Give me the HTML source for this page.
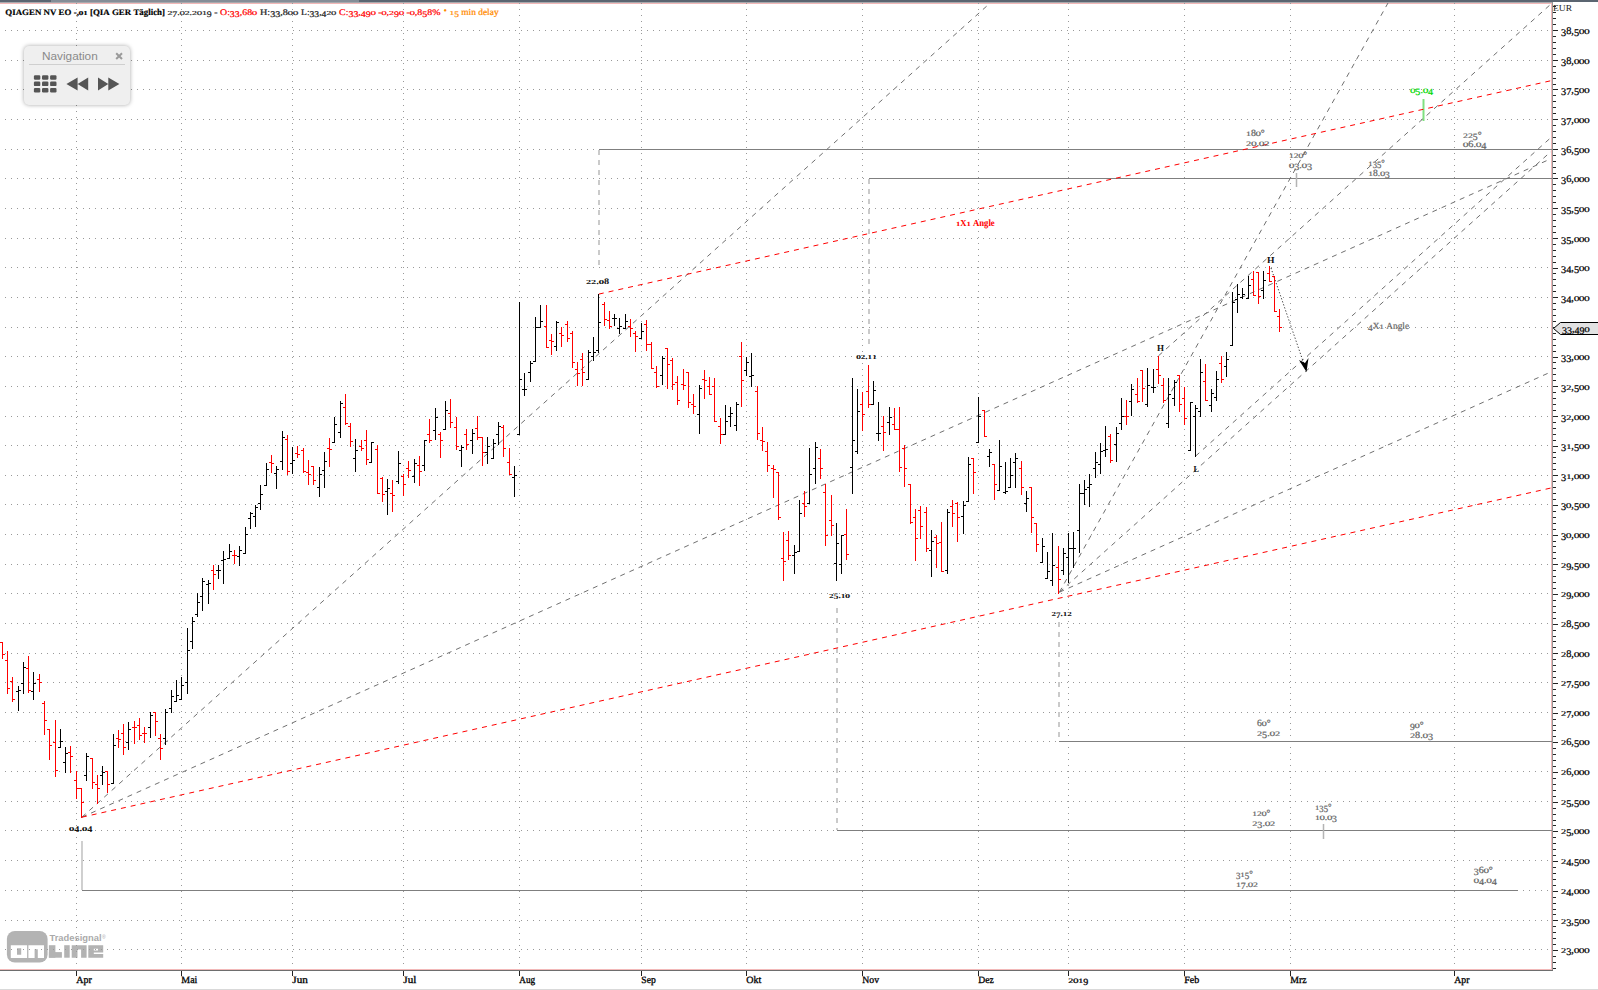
<!DOCTYPE html>
<html><head><meta charset="utf-8"><style>
html,body{margin:0;padding:0;background:#fff;}
body{width:1598px;height:990px;overflow:hidden;position:relative;}
#chart{position:absolute;left:0;top:0;}
#nav{position:absolute;left:24px;top:46px;width:106px;height:59px;background:#efefef;border-radius:5px;box-shadow:0 0 4px rgba(0,0,0,0.35);}
#navt{position:absolute;left:18px;top:3px;font-family:"Liberation Sans",sans-serif;font-size:11.8px;color:#8a8a8a;}
#navx{position:absolute;left:90.8px;top:5.9px;}
#navsep{position:absolute;left:5px;top:18px;width:96px;height:1px;background:#cfcfcf;}
#navicons{position:absolute;left:0;top:29px;}
</style></head><body>
<svg id="chart" width="1598" height="990" viewBox="0 0 1598 990">
<rect x="0" y="0" width="1598" height="2" fill="#5b6571"/>
<rect x="51" y="0" width="308" height="2" fill="#858d97"/>
<rect x="0" y="2" width="1553" height="1" fill="#a7a9ad"/>
<rect x="0" y="3" width="1551" height="1" fill="#f2b8b8"/>
<rect x="1551" y="3" width="1" height="967" fill="#f2b8b8"/>
<rect x="0" y="969" width="1551" height="1" fill="#f2b8b8"/>
<rect x="1552" y="2" width="1" height="969" fill="#959595"/>
<rect x="0" y="970" width="1553" height="1" fill="#6e6e6e"/>
<rect x="0" y="989" width="1598" height="1" fill="#d9d9d9"/>
<g fill="#b3b3b3">
<rect x="6.9" y="930.9" width="40.7" height="31.6" rx="8"/>
<rect x="48.9" y="945.2" width="6.5" height="12.5"/><rect x="48.9" y="952.1" width="13" height="5.6"/>
<rect x="64.2" y="945.2" width="5.5" height="12.5"/>
<path d="M71.7 945.2H86.6V957.7H81.1V949.4H77.5V957.7H71.7Z"/>
<path d="M88.3 945.2H103.2V954H93.8V952.4H103.2V957.7H88.3Z M93.8 948.8V950.4H98V948.8Z" fill-rule="evenodd"/>
<text x="49.5" y="941.3" font-family="Liberation Sans" font-size="8.2" font-weight="bold" fill="#aaaaaa" textLength="52.0" lengthAdjust="spacingAndGlyphs" >Tradesignal</text>
</g>
<text x="102" y="938.5" font-family="Liberation Sans" font-size="5" fill="#aaa">®</text>
<g fill="#fff">
<path d="M10.8 945.2H27.1V957.9H10.8Z M17 948.2V954.7H21.2V948.2Z" fill-rule="evenodd"/>
<path d="M28.4 945.2H44V957.9H37.8V949.2H34.6V957.9H28.4Z"/>
</g>
<path d="M5 30.5H1551M5 60.5H1551M5 89.5H1551M5 119.5H1551M5 149.5H1551M5 178.5H1551M5 208.5H1551M5 238.5H1551M5 267.5H1551M5 297.5H1551M5 327.5H1551M5 356.5H1551M5 386.5H1551M5 416.5H1551M5 445.5H1551M5 475.5H1551M5 504.5H1551M5 534.5H1551M5 564.5H1551M5 593.5H1551M5 623.5H1551M5 653.5H1551M5 682.5H1551M5 712.5H1551M5 741.5H1551M5 771.5H1551M5 801.5H1551M5 830.5H1551M5 860.5H1551M5 890.5H1551M5 920.5H1551M5 949.5H1551" stroke="#999999" stroke-width="1" stroke-dasharray="1 5" fill="none" shape-rendering="crispEdges"/>
<path d="M76.5 3V969M181.5 3V969M292.5 3V969M403.5 3V969M519.5 3V969M641.5 3V969M746.5 3V969M862.5 3V969M978.5 3V969M1068.5 3V969M1184.5 3V969M1290.5 3V969M1454.5 3V969" stroke="#999999" stroke-width="1" stroke-dasharray="1 5" fill="none" shape-rendering="crispEdges"/>
<g shape-rendering="crispEdges">
<rect x="599" y="149" width="953" height="1" fill="#7f7f7f"/>
<rect x="869" y="178" width="683" height="1" fill="#7f7f7f"/>
<rect x="1059" y="741" width="493" height="1" fill="#7f7f7f"/>
<rect x="837" y="830" width="715" height="1" fill="#7f7f7f"/>
<rect x="82" y="890" width="1436" height="1" fill="#7f7f7f"/>
</g>
<g stroke="#bdbdbd" stroke-width="1.6" stroke-dasharray="5 5" fill="none">
<path d="M599 150V267"/>
<path d="M869 179V344"/>
<path d="M837 608V830"/>
<path d="M1059 622V741"/>
</g>
<path d="M82 841V890" stroke="#c4c4c4" stroke-width="1.6" fill="none"/>
<path d="M1296.5 173V187M1323.5 824V839" stroke="#b4b4b4" stroke-width="1.5" fill="none"/>
<path d="M1423.5 99V121" stroke="#80e080" stroke-width="2" fill="none"/>
<g stroke="#707070" stroke-width="1" stroke-dasharray="5 5" fill="none">
<line x1="81.9" y1="817.2" x2="990.2" y2="3.0"/>
<line x1="81.9" y1="817.2" x2="1551.0" y2="158.7"/>
<line x1="1059.4" y1="592.2" x2="1388.0" y2="3.0"/>
<line x1="1059.4" y1="592.2" x2="1551.0" y2="151.5"/>
<line x1="1059.4" y1="592.2" x2="1551.0" y2="371.9"/>
<line x1="1158.5" y1="355.8" x2="1551.0" y2="4.0"/>
<line x1="1195.6" y1="456.1" x2="1551.0" y2="137.5"/>
</g>
<g stroke="#ff0000" stroke-width="1" stroke-dasharray="5 5" fill="none">
<line x1="81.9" y1="817.2" x2="1551.0" y2="488.0"/>
<line x1="598.8" y1="294.1" x2="1551.0" y2="80.7"/>
</g>
<line x1="1271" y1="268" x2="1305" y2="367" stroke="#303030" stroke-width="1" stroke-dasharray="1.2 2"/>
<path d="M1299 360 L1306.5 372 L1308.5 358 L1305 363 Z" fill="#000"/>
<g shape-rendering="crispEdges" fill="none" stroke-width="1">
<path stroke="#ff0000" d="M2.5 642V659M0 642.5H3M2 654.5H5M7.5 651V694M5 660.5H8M7 688.5H10M12.5 677V702M10 681.5H13M12 699.5H15M28.5 656V693M26 668.5H29M28 690.5H31M39.5 674V692M37 679.5H40M39 682.5H42M44.5 701V735M42 703.5H45M44 720.5H47M49.5 729V760M47 729.5H50M49 745.5H52M55.5 720V777M53 742.5H56M55 770.5H58M70.5 746V773M68 752.5H71M70 756.5H73M76.5 771V799M74 780.5H77M76 788.5H79M81.5 788V818M79 788.5H82M81 802.5H84M92.5 758V789M90 758.5H93M92 782.5H95M97.5 775V804M95 784.5H98M97 788.5H100M107.5 771V793M105 771.5H108M107 784.5H110M118.5 730V748M116 738.5H119M118 739.5H121M123.5 724V755M121 733.5H124M123 747.5H126M134.5 721V744M132 727.5H135M134 727.5H137M139.5 718V740M137 725.5H140M139 735.5H142M144.5 727V743M142 733.5H145M144 733.5H147M155.5 712V736M153 712.5H156M155 721.5H158M160.5 734V760M158 738.5H161M160 748.5H163M213.5 565V590M211 570.5H214M213 574.5H216M234.5 550V564M232 555.5H235M234 555.5H237M271.5 455V473M269 462.5H272M271 463.5H274M287.5 435V475M285 439.5H288M287 471.5H290M297.5 446V458M295 453.5H298M297 454.5H300M303.5 448V473M301 450.5H304M303 471.5H306M308.5 460V485M306 472.5H309M308 474.5H311M313.5 466V485M311 466.5H314M313 480.5H316M329.5 438V467M327 448.5H330M329 449.5H332M345.5 394V425M343 407.5H346M345 423.5H348M350.5 423V447M348 426.5H351M350 441.5H353M361.5 440V451M359 446.5H362M361 448.5H364M366.5 430V465M364 440.5H367M366 459.5H369M377.5 445V494M375 449.5H378M377 493.5H380M382.5 477V502M380 478.5H383M382 494.5H385M392.5 480V512M390 493.5H393M392 495.5H395M403.5 474V496M401 476.5H404M403 484.5H406M408.5 461V478M406 468.5H409M408 470.5H411M419.5 456V486M417 465.5H420M419 471.5H422M429.5 419V443M427 434.5H430M429 440.5H432M440.5 432V458M438 434.5H441M440 440.5H443M450.5 399V428M448 413.5H451M450 422.5H453M456.5 417V450M454 427.5H457M456 446.5H459M466.5 429V450M464 434.5H467M466 444.5H469M477.5 416V440M475 428.5H478M477 437.5H480M482.5 437V466M480 437.5H483M482 452.5H485M503.5 425V457M501 427.5H504M503 448.5H506M509.5 448V475M507 462.5H510M509 474.5H512M546.5 305V348M544 326.5H547M546 347.5H549M551.5 334V355M549 340.5H552M551 341.5H554M561.5 327V347M559 333.5H562M561 335.5H564M567.5 321V342M565 324.5H568M567 338.5H570M572.5 331V368M570 333.5H573M572 362.5H575M577.5 362V386M575 369.5H578M577 373.5H580M582.5 353V386M580 359.5H583M582 372.5H585M604.5 302V326M602 304.5H605M604 319.5H607M609.5 311V329M607 320.5H610M609 326.5H612M630.5 319V337M628 326.5H631M630 328.5H633M635.5 331V352M633 333.5H636M635 336.5H638M646.5 320V351M644 324.5H647M646 344.5H649M651.5 342V369M649 344.5H652M651 368.5H654M656.5 366V388M654 372.5H657M656 386.5H659M667.5 348V389M665 348.5H668M667 364.5H670M672.5 358V390M670 360.5H673M672 384.5H675M677.5 376V405M675 382.5H678M677 400.5H680M683.5 369V390M681 384.5H684M683 385.5H686M688.5 372V408M686 372.5H689M688 402.5H691M693.5 394V414M691 404.5H694M693 406.5H696M704.5 370V399M702 379.5H705M704 380.5H707M709.5 377V395M707 386.5H710M709 394.5H712M714.5 378V422M712 386.5H715M714 421.5H717M720.5 418V444M718 426.5H721M720 434.5H723M741.5 342V407M739 356.5H742M741 380.5H744M757.5 386V440M755 391.5H758M757 433.5H760M762.5 427V451M760 440.5H763M762 441.5H765M767.5 442V472M765 451.5H768M767 465.5H770M773.5 465V498M771 468.5H774M773 469.5H776M778.5 472V520M776 472.5H779M778 517.5H781M783.5 532V581M781 558.5H784M783 561.5H786M788.5 531V560M786 540.5H789M788 555.5H791M804.5 491V517M802 503.5H805M804 506.5H807M820.5 449V479M818 458.5H821M820 468.5H823M825.5 484V546M823 492.5H826M825 535.5H828M831.5 495V536M829 520.5H832M831 525.5H834M846.5 509V560M844 534.5H847M846 554.5H849M862.5 392V431M860 404.5H863M862 414.5H865M868.5 365V408M866 391.5H869M868 404.5H871M883.5 416V451M881 426.5H884M883 432.5H886M894.5 408V430M892 424.5H895M894 429.5H897M899.5 407V472M897 429.5H900M899 467.5H902M904.5 445V487M902 448.5H905M904 468.5H907M910.5 484V524M908 484.5H911M910 522.5H913M915.5 509V561M913 517.5H916M915 538.5H918M920.5 506V539M918 510.5H921M920 526.5H923M926.5 507V552M924 512.5H927M926 548.5H929M936.5 535V568M934 537.5H937M936 543.5H939M941.5 522V572M939 542.5H942M941 571.5H944M952.5 500V527M950 506.5H953M952 513.5H955M957.5 502V542M955 503.5H958M957 517.5H960M973.5 458V494M971 458.5H974M973 472.5H976M984.5 410V437M982 410.5H985M984 436.5H987M994.5 464V500M992 464.5H995M994 484.5H997M1021.5 461V495M1019 468.5H1022M1021 487.5H1024M1031.5 487V533M1029 487.5H1032M1031 517.5H1034M1036.5 523V552M1034 523.5H1037M1036 544.5H1039M1058.5 546V594M1056 567.5H1059M1058 579.5H1061M1110.5 434V463M1108 436.5H1111M1110 460.5H1113M1126.5 400V425M1124 416.5H1127M1126 416.5H1129M1137.5 378V403M1135 394.5H1138M1137 401.5H1140M1142.5 370V402M1140 370.5H1143M1142 388.5H1145M1158.5 356V384M1156 369.5H1159M1158 375.5H1161M1163.5 378V403M1161 385.5H1164M1163 400.5H1166M1179.5 375V412M1177 375.5H1180M1179 404.5H1182M1184.5 387V425M1182 398.5H1185M1184 418.5H1187M1205.5 364V401M1203 381.5H1206M1205 400.5H1208M1221.5 356V383M1219 363.5H1222M1221 379.5H1224M1253.5 271V296M1251 279.5H1254M1253 295.5H1256M1258.5 272V304M1256 272.5H1259M1258 296.5H1261M1269.5 266V282M1267 273.5H1270M1269 281.5H1272M1274.5 276V312M1272 276.5H1275M1274 311.5H1277M1279.5 309V332M1277 316.5H1280M1279 327.5H1282"/>
<path stroke="#000000" d="M18.5 686V711M16 691.5H19M18 690.5H21M23.5 662V694M21 683.5H24M23 667.5H26M33.5 672V700M31 691.5H34M33 683.5H36M60.5 729V748M58 747.5H61M60 741.5H63M65.5 747V773M63 762.5H66M65 753.5H68M86.5 753V781M84 775.5H87M86 756.5H89M102.5 766V785M100 775.5H103M102 772.5H105M113.5 734V784M111 783.5H114M113 745.5H116M128.5 722V750M126 742.5H129M128 729.5H131M150.5 712V738M148 727.5H151M150 715.5H153M165.5 709V745M163 738.5H166M165 712.5H168M171.5 690V713M169 708.5H172M171 696.5H174M176.5 680V702M174 701.5H177M176 695.5H179M181.5 677V700M179 699.5H182M181 685.5H184M187.5 628V694M185 682.5H188M187 650.5H190M192.5 617V649M190 641.5H193M192 621.5H195M197.5 593V617M195 614.5H198M197 602.5H200M202.5 578V611M200 596.5H203M202 581.5H205M208.5 580V604M206 584.5H209M208 583.5H211M218.5 565V579M216 570.5H219M218 570.5H221M223.5 551V584M221 560.5H224M223 559.5H226M229.5 544V559M227 558.5H230M229 551.5H232M239.5 546V566M237 556.5H240M239 550.5H242M245.5 527V554M243 553.5H246M245 534.5H248M250.5 512V529M248 518.5H251M250 513.5H253M255.5 505V527M253 516.5H256M255 507.5H258M260.5 485V510M258 503.5H261M260 494.5H263M266.5 463V486M264 485.5H267M266 469.5H269M276.5 466V489M274 473.5H277M276 469.5H279M282.5 431V470M280 461.5H283M282 437.5H285M292.5 447V474M290 463.5H293M292 460.5H295M319.5 467V497M317 487.5H320M319 474.5H322M324.5 452V488M322 470.5H325M324 461.5H327M334.5 417V443M332 442.5H335M334 424.5H337M340.5 401V438M338 432.5H341M340 403.5H343M355.5 439V472M353 458.5H356M355 450.5H358M371.5 442V463M369 462.5H372M371 442.5H374M387.5 479V515M385 491.5H388M387 488.5H390M398.5 451V484M396 481.5H399M398 463.5H401M414.5 459V483M412 476.5H415M414 463.5H417M424.5 440V471M422 465.5H425M424 440.5H427M435.5 408V440M433 430.5H436M435 417.5H438M445.5 401V430M443 429.5H446M445 410.5H448M461.5 445V467M459 450.5H462M461 447.5H464M472.5 429V454M470 440.5H473M472 433.5H475M487.5 437V464M485 452.5H488M487 446.5H490M493.5 439V459M491 458.5H494M493 443.5H496M498.5 422V445M496 434.5H499M498 426.5H501M514.5 466V497M512 477.5H515M514 475.5H517M519.5 302V435M517 434.5H520M519 379.5H522M524.5 373V396M522 389.5H525M524 389.5H527M530.5 361V382M528 372.5H531M530 363.5H533M535.5 317V362M533 361.5H536M535 327.5H538M540.5 305V328M538 327.5H541M540 321.5H543M556.5 321V351M554 346.5H557M556 322.5H559M588.5 350V380M586 379.5H589M588 352.5H591M593.5 337V361M591 356.5H594M593 352.5H596M598.5 294V353M596 350.5H599M598 322.5H601M614.5 314V326M612 318.5H615M614 318.5H617M619.5 318V334M617 328.5H620M619 326.5H622M625.5 314V329M623 328.5H626M625 321.5H628M641.5 323V339M639 338.5H642M641 331.5H644M662.5 356V385M660 375.5H663M662 358.5H665M699.5 385V434M697 414.5H700M699 388.5H702M725.5 405V435M723 434.5H726M725 421.5H728M730.5 407V427M728 416.5H731M730 413.5H733M736.5 402V431M734 425.5H737M736 404.5H739M746.5 357V376M744 370.5H747M746 362.5H749M751.5 353V387M749 376.5H752M751 375.5H754M794.5 545V574M792 555.5H795M794 552.5H797M799.5 500V552M797 551.5H800M799 513.5H802M809.5 448V504M807 503.5H810M809 474.5H812M815.5 442V484M813 468.5H816M815 447.5H818M836.5 523V581M834 563.5H837M836 543.5H839M841.5 535V574M839 564.5H842M841 535.5H844M852.5 378V494M850 467.5H853M852 440.5H855M857.5 389V454M855 451.5H858M857 411.5H860M873.5 381V405M871 404.5H874M873 390.5H876M878.5 402V441M876 433.5H879M878 433.5H881M889.5 407V435M887 422.5H890M889 417.5H892M931.5 530V577M929 550.5H932M931 541.5H934M947.5 509V574M945 570.5H948M947 512.5H950M963.5 501V534M961 516.5H964M963 505.5H966M968.5 457V502M966 501.5H969M968 464.5H971M978.5 397V443M976 442.5H979M978 416.5H981M989.5 449V467M987 456.5H990M989 452.5H992M999.5 440V491M997 490.5H1000M999 466.5H1002M1005.5 462V494M1003 492.5H1006M1005 491.5H1008M1010.5 458V488M1008 487.5H1011M1010 475.5H1013M1015.5 453V488M1013 462.5H1016M1015 458.5H1018M1026.5 491V512M1024 503.5H1027M1026 498.5H1029M1042.5 538V563M1040 562.5H1043M1042 546.5H1045M1047.5 552V579M1045 578.5H1048M1047 571.5H1050M1052.5 533V586M1050 580.5H1053M1052 565.5H1055M1063.5 548V575M1061 570.5H1064M1063 553.5H1066M1068.5 533V583M1066 557.5H1069M1068 548.5H1071M1073.5 532V568M1071 548.5H1074M1073 548.5H1076M1079.5 484V553M1077 530.5H1080M1079 493.5H1082M1084.5 480V505M1082 493.5H1085M1084 489.5H1087M1089.5 474V507M1087 487.5H1090M1089 484.5H1092M1095.5 452V478M1093 468.5H1096M1095 462.5H1098M1100.5 443V474M1098 464.5H1101M1100 451.5H1103M1105.5 426V457M1103 450.5H1106M1105 449.5H1108M1116.5 427V462M1114 444.5H1117M1116 433.5H1119M1121.5 398V430M1119 423.5H1122M1121 416.5H1124M1131.5 384V416M1129 401.5H1132M1131 389.5H1134M1147.5 368V407M1145 404.5H1148M1147 385.5H1150M1153.5 369V393M1151 387.5H1154M1153 387.5H1156M1168.5 378V428M1166 423.5H1169M1168 394.5H1171M1174.5 380V406M1172 398.5H1175M1174 382.5H1177M1190.5 402V451M1188 450.5H1191M1190 402.5H1193M1195.5 405V457M1193 416.5H1196M1195 408.5H1198M1200.5 359V417M1198 411.5H1201M1200 372.5H1203M1211.5 389V412M1209 405.5H1212M1211 393.5H1214M1216.5 371V401M1214 397.5H1217M1216 379.5H1219M1226.5 352V377M1224 366.5H1227M1226 359.5H1229M1232.5 292V346M1230 345.5H1233M1232 302.5H1235M1237.5 284V313M1235 299.5H1238M1237 294.5H1240M1242.5 288V299M1240 297.5H1243M1242 294.5H1245M1248.5 276V299M1246 298.5H1249M1248 285.5H1251M1263.5 271V299M1261 290.5H1264M1263 280.5H1266"/>
</g>
<path d="M1553 968.5h3M1553 962.5h3M1553 956.5h3M1553 950.5h5M1553 944.5h3M1553 938.5h3M1553 932.5h3M1553 926.5h3M1553 920.5h5M1553 914.5h3M1553 909.5h3M1553 903.5h3M1553 897.5h3M1553 891.5h5M1553 885.5h3M1553 879.5h3M1553 873.5h3M1553 867.5h3M1553 861.5h5M1553 855.5h3M1553 849.5h3M1553 843.5h3M1553 837.5h3M1553 831.5h5M1553 825.5h3M1553 820.5h3M1553 814.5h3M1553 808.5h3M1553 802.5h5M1553 796.5h3M1553 790.5h3M1553 784.5h3M1553 778.5h3M1553 772.5h5M1553 766.5h3M1553 760.5h3M1553 754.5h3M1553 748.5h3M1553 742.5h5M1553 736.5h3M1553 730.5h3M1553 725.5h3M1553 719.5h3M1553 713.5h5M1553 707.5h3M1553 701.5h3M1553 695.5h3M1553 689.5h3M1553 683.5h5M1553 677.5h3M1553 671.5h3M1553 665.5h3M1553 659.5h3M1553 653.5h5M1553 647.5h3M1553 641.5h3M1553 636.5h3M1553 630.5h3M1553 624.5h5M1553 618.5h3M1553 612.5h3M1553 606.5h3M1553 600.5h3M1553 594.5h5M1553 588.5h3M1553 582.5h3M1553 576.5h3M1553 570.5h3M1553 564.5h5M1553 558.5h3M1553 552.5h3M1553 546.5h3M1553 541.5h3M1553 535.5h5M1553 529.5h3M1553 523.5h3M1553 517.5h3M1553 511.5h3M1553 505.5h5M1553 499.5h3M1553 493.5h3M1553 487.5h3M1553 481.5h3M1553 475.5h5M1553 469.5h3M1553 463.5h3M1553 457.5h3M1553 452.5h3M1553 446.5h5M1553 440.5h3M1553 434.5h3M1553 428.5h3M1553 422.5h3M1553 416.5h5M1553 410.5h3M1553 404.5h3M1553 398.5h3M1553 392.5h3M1553 386.5h5M1553 380.5h3M1553 374.5h3M1553 368.5h3M1553 362.5h3M1553 357.5h5M1553 351.5h3M1553 345.5h3M1553 339.5h3M1553 333.5h3M1553 327.5h5M1553 321.5h3M1553 315.5h3M1553 309.5h3M1553 303.5h3M1553 297.5h5M1553 291.5h3M1553 285.5h3M1553 279.5h3M1553 273.5h3M1553 268.5h5M1553 262.5h3M1553 256.5h3M1553 250.5h3M1553 244.5h3M1553 238.5h5M1553 232.5h3M1553 226.5h3M1553 220.5h3M1553 214.5h3M1553 208.5h5M1553 202.5h3M1553 196.5h3M1553 190.5h3M1553 184.5h3M1553 178.5h5M1553 173.5h3M1553 167.5h3M1553 161.5h3M1553 155.5h3M1553 149.5h5M1553 143.5h3M1553 137.5h3M1553 131.5h3M1553 125.5h3M1553 119.5h5M1553 113.5h3M1553 107.5h3M1553 101.5h3M1553 95.5h3M1553 89.5h5M1553 84.5h3M1553 78.5h3M1553 72.5h3M1553 66.5h3M1553 60.5h5M1553 54.5h3M1553 48.5h3M1553 42.5h3M1553 36.5h3M1553 30.5h5M1553 24.5h3M1553 18.5h3M1553 12.5h3M1553 6.5h3" stroke="#222" stroke-width="1" fill="none" shape-rendering="crispEdges"/>
<g font-family="Liberation Serif" font-size="10.2" font-weight="normal" fill="#000" stroke="#000" stroke-width="0.22" text-rendering="geometricPrecision" ><text transform="translate(1561.00,36.04) scale(1.016,1)">3</text><text transform="translate(1566.18,33.90) scale(1.016,1)">8</text><text transform="translate(1571.36,33.90) scale(1.016,1)">,</text><text transform="translate(1573.95,36.04) scale(1.016,1)">5</text><text transform="translate(1578.83,33.90) scale(1.138,0.71)">0</text><text transform="translate(1584.01,33.90) scale(1.138,0.71)">0</text></g>
<g font-family="Liberation Serif" font-size="10.2" font-weight="normal" fill="#000" stroke="#000" stroke-width="0.22" text-rendering="geometricPrecision" ><text transform="translate(1561.00,66.04) scale(1.016,1)">3</text><text transform="translate(1566.18,63.90) scale(1.016,1)">8</text><text transform="translate(1571.36,63.90) scale(1.016,1)">,</text><text transform="translate(1573.64,63.90) scale(1.138,0.71)">0</text><text transform="translate(1578.83,63.90) scale(1.138,0.71)">0</text><text transform="translate(1584.01,63.90) scale(1.138,0.71)">0</text></g>
<g font-family="Liberation Serif" font-size="10.2" font-weight="normal" fill="#000" stroke="#000" stroke-width="0.22" text-rendering="geometricPrecision" ><text transform="translate(1561.00,95.04) scale(1.016,1)">3</text><text transform="translate(1566.18,95.04) scale(1.016,1)">7</text><text transform="translate(1571.36,92.90) scale(1.016,1)">,</text><text transform="translate(1573.95,95.04) scale(1.016,1)">5</text><text transform="translate(1578.83,92.90) scale(1.138,0.71)">0</text><text transform="translate(1584.01,92.90) scale(1.138,0.71)">0</text></g>
<g font-family="Liberation Serif" font-size="10.2" font-weight="normal" fill="#000" stroke="#000" stroke-width="0.22" text-rendering="geometricPrecision" ><text transform="translate(1561.00,125.04) scale(1.016,1)">3</text><text transform="translate(1566.18,125.04) scale(1.016,1)">7</text><text transform="translate(1571.36,122.90) scale(1.016,1)">,</text><text transform="translate(1573.64,122.90) scale(1.138,0.71)">0</text><text transform="translate(1578.83,122.90) scale(1.138,0.71)">0</text><text transform="translate(1584.01,122.90) scale(1.138,0.71)">0</text></g>
<g font-family="Liberation Serif" font-size="10.2" font-weight="normal" fill="#000" stroke="#000" stroke-width="0.22" text-rendering="geometricPrecision" ><text transform="translate(1561.00,155.04) scale(1.016,1)">3</text><text transform="translate(1566.18,152.90) scale(1.016,1)">6</text><text transform="translate(1571.36,152.90) scale(1.016,1)">,</text><text transform="translate(1573.95,155.04) scale(1.016,1)">5</text><text transform="translate(1578.83,152.90) scale(1.138,0.71)">0</text><text transform="translate(1584.01,152.90) scale(1.138,0.71)">0</text></g>
<g font-family="Liberation Serif" font-size="10.2" font-weight="normal" fill="#000" stroke="#000" stroke-width="0.22" text-rendering="geometricPrecision" ><text transform="translate(1561.00,184.04) scale(1.016,1)">3</text><text transform="translate(1566.18,181.90) scale(1.016,1)">6</text><text transform="translate(1571.36,181.90) scale(1.016,1)">,</text><text transform="translate(1573.64,181.90) scale(1.138,0.71)">0</text><text transform="translate(1578.83,181.90) scale(1.138,0.71)">0</text><text transform="translate(1584.01,181.90) scale(1.138,0.71)">0</text></g>
<g font-family="Liberation Serif" font-size="10.2" font-weight="normal" fill="#000" stroke="#000" stroke-width="0.22" text-rendering="geometricPrecision" ><text transform="translate(1561.00,214.04) scale(1.016,1)">3</text><text transform="translate(1566.18,214.04) scale(1.016,1)">5</text><text transform="translate(1571.36,211.90) scale(1.016,1)">,</text><text transform="translate(1573.95,214.04) scale(1.016,1)">5</text><text transform="translate(1578.83,211.90) scale(1.138,0.71)">0</text><text transform="translate(1584.01,211.90) scale(1.138,0.71)">0</text></g>
<g font-family="Liberation Serif" font-size="10.2" font-weight="normal" fill="#000" stroke="#000" stroke-width="0.22" text-rendering="geometricPrecision" ><text transform="translate(1561.00,244.04) scale(1.016,1)">3</text><text transform="translate(1566.18,244.04) scale(1.016,1)">5</text><text transform="translate(1571.36,241.90) scale(1.016,1)">,</text><text transform="translate(1573.64,241.90) scale(1.138,0.71)">0</text><text transform="translate(1578.83,241.90) scale(1.138,0.71)">0</text><text transform="translate(1584.01,241.90) scale(1.138,0.71)">0</text></g>
<g font-family="Liberation Serif" font-size="10.2" font-weight="normal" fill="#000" stroke="#000" stroke-width="0.22" text-rendering="geometricPrecision" ><text transform="translate(1561.00,273.04) scale(1.016,1)">3</text><text transform="translate(1566.18,273.04) scale(1.016,1)">4</text><text transform="translate(1571.36,270.90) scale(1.016,1)">,</text><text transform="translate(1573.95,273.04) scale(1.016,1)">5</text><text transform="translate(1578.83,270.90) scale(1.138,0.71)">0</text><text transform="translate(1584.01,270.90) scale(1.138,0.71)">0</text></g>
<g font-family="Liberation Serif" font-size="10.2" font-weight="normal" fill="#000" stroke="#000" stroke-width="0.22" text-rendering="geometricPrecision" ><text transform="translate(1561.00,303.04) scale(1.016,1)">3</text><text transform="translate(1566.18,303.04) scale(1.016,1)">4</text><text transform="translate(1571.36,300.90) scale(1.016,1)">,</text><text transform="translate(1573.64,300.90) scale(1.138,0.71)">0</text><text transform="translate(1578.83,300.90) scale(1.138,0.71)">0</text><text transform="translate(1584.01,300.90) scale(1.138,0.71)">0</text></g>
<g font-family="Liberation Serif" font-size="10.2" font-weight="normal" fill="#000" stroke="#000" stroke-width="0.22" text-rendering="geometricPrecision" ><text transform="translate(1561.00,333.04) scale(1.016,1)">3</text><text transform="translate(1566.18,333.04) scale(1.016,1)">3</text><text transform="translate(1571.36,330.90) scale(1.016,1)">,</text><text transform="translate(1573.95,333.04) scale(1.016,1)">5</text><text transform="translate(1578.83,330.90) scale(1.138,0.71)">0</text><text transform="translate(1584.01,330.90) scale(1.138,0.71)">0</text></g>
<g font-family="Liberation Serif" font-size="10.2" font-weight="normal" fill="#000" stroke="#000" stroke-width="0.22" text-rendering="geometricPrecision" ><text transform="translate(1561.00,362.04) scale(1.016,1)">3</text><text transform="translate(1566.18,362.04) scale(1.016,1)">3</text><text transform="translate(1571.36,359.90) scale(1.016,1)">,</text><text transform="translate(1573.64,359.90) scale(1.138,0.71)">0</text><text transform="translate(1578.83,359.90) scale(1.138,0.71)">0</text><text transform="translate(1584.01,359.90) scale(1.138,0.71)">0</text></g>
<g font-family="Liberation Serif" font-size="10.2" font-weight="normal" fill="#000" stroke="#000" stroke-width="0.22" text-rendering="geometricPrecision" ><text transform="translate(1561.00,392.04) scale(1.016,1)">3</text><text transform="translate(1566.18,389.90) scale(1.016,0.71)">2</text><text transform="translate(1571.36,389.90) scale(1.016,1)">,</text><text transform="translate(1573.95,392.04) scale(1.016,1)">5</text><text transform="translate(1578.83,389.90) scale(1.138,0.71)">0</text><text transform="translate(1584.01,389.90) scale(1.138,0.71)">0</text></g>
<g font-family="Liberation Serif" font-size="10.2" font-weight="normal" fill="#000" stroke="#000" stroke-width="0.22" text-rendering="geometricPrecision" ><text transform="translate(1561.00,422.04) scale(1.016,1)">3</text><text transform="translate(1566.18,419.90) scale(1.016,0.71)">2</text><text transform="translate(1571.36,419.90) scale(1.016,1)">,</text><text transform="translate(1573.64,419.90) scale(1.138,0.71)">0</text><text transform="translate(1578.83,419.90) scale(1.138,0.71)">0</text><text transform="translate(1584.01,419.90) scale(1.138,0.71)">0</text></g>
<g font-family="Liberation Serif" font-size="10.2" font-weight="normal" fill="#000" stroke="#000" stroke-width="0.22" text-rendering="geometricPrecision" ><text transform="translate(1561.00,451.04) scale(1.016,1)">3</text><text transform="translate(1566.18,448.90) scale(1.016,0.71)">1</text><text transform="translate(1571.36,448.90) scale(1.016,1)">,</text><text transform="translate(1573.95,451.04) scale(1.016,1)">5</text><text transform="translate(1578.83,448.90) scale(1.138,0.71)">0</text><text transform="translate(1584.01,448.90) scale(1.138,0.71)">0</text></g>
<g font-family="Liberation Serif" font-size="10.2" font-weight="normal" fill="#000" stroke="#000" stroke-width="0.22" text-rendering="geometricPrecision" ><text transform="translate(1561.00,481.04) scale(1.016,1)">3</text><text transform="translate(1566.18,478.90) scale(1.016,0.71)">1</text><text transform="translate(1571.36,478.90) scale(1.016,1)">,</text><text transform="translate(1573.64,478.90) scale(1.138,0.71)">0</text><text transform="translate(1578.83,478.90) scale(1.138,0.71)">0</text><text transform="translate(1584.01,478.90) scale(1.138,0.71)">0</text></g>
<g font-family="Liberation Serif" font-size="10.2" font-weight="normal" fill="#000" stroke="#000" stroke-width="0.22" text-rendering="geometricPrecision" ><text transform="translate(1561.00,510.04) scale(1.016,1)">3</text><text transform="translate(1565.87,507.90) scale(1.138,0.71)">0</text><text transform="translate(1571.36,507.90) scale(1.016,1)">,</text><text transform="translate(1573.95,510.04) scale(1.016,1)">5</text><text transform="translate(1578.83,507.90) scale(1.138,0.71)">0</text><text transform="translate(1584.01,507.90) scale(1.138,0.71)">0</text></g>
<g font-family="Liberation Serif" font-size="10.2" font-weight="normal" fill="#000" stroke="#000" stroke-width="0.22" text-rendering="geometricPrecision" ><text transform="translate(1561.00,540.04) scale(1.016,1)">3</text><text transform="translate(1565.87,537.90) scale(1.138,0.71)">0</text><text transform="translate(1571.36,537.90) scale(1.016,1)">,</text><text transform="translate(1573.64,537.90) scale(1.138,0.71)">0</text><text transform="translate(1578.83,537.90) scale(1.138,0.71)">0</text><text transform="translate(1584.01,537.90) scale(1.138,0.71)">0</text></g>
<g font-family="Liberation Serif" font-size="10.2" font-weight="normal" fill="#000" stroke="#000" stroke-width="0.22" text-rendering="geometricPrecision" ><text transform="translate(1561.00,567.90) scale(1.016,0.71)">2</text><text transform="translate(1566.18,570.04) scale(1.016,1)">9</text><text transform="translate(1571.36,567.90) scale(1.016,1)">,</text><text transform="translate(1573.95,570.04) scale(1.016,1)">5</text><text transform="translate(1578.83,567.90) scale(1.138,0.71)">0</text><text transform="translate(1584.01,567.90) scale(1.138,0.71)">0</text></g>
<g font-family="Liberation Serif" font-size="10.2" font-weight="normal" fill="#000" stroke="#000" stroke-width="0.22" text-rendering="geometricPrecision" ><text transform="translate(1561.00,596.90) scale(1.016,0.71)">2</text><text transform="translate(1566.18,599.04) scale(1.016,1)">9</text><text transform="translate(1571.36,596.90) scale(1.016,1)">,</text><text transform="translate(1573.64,596.90) scale(1.138,0.71)">0</text><text transform="translate(1578.83,596.90) scale(1.138,0.71)">0</text><text transform="translate(1584.01,596.90) scale(1.138,0.71)">0</text></g>
<g font-family="Liberation Serif" font-size="10.2" font-weight="normal" fill="#000" stroke="#000" stroke-width="0.22" text-rendering="geometricPrecision" ><text transform="translate(1561.00,626.90) scale(1.016,0.71)">2</text><text transform="translate(1566.18,626.90) scale(1.016,1)">8</text><text transform="translate(1571.36,626.90) scale(1.016,1)">,</text><text transform="translate(1573.95,629.04) scale(1.016,1)">5</text><text transform="translate(1578.83,626.90) scale(1.138,0.71)">0</text><text transform="translate(1584.01,626.90) scale(1.138,0.71)">0</text></g>
<g font-family="Liberation Serif" font-size="10.2" font-weight="normal" fill="#000" stroke="#000" stroke-width="0.22" text-rendering="geometricPrecision" ><text transform="translate(1561.00,656.90) scale(1.016,0.71)">2</text><text transform="translate(1566.18,656.90) scale(1.016,1)">8</text><text transform="translate(1571.36,656.90) scale(1.016,1)">,</text><text transform="translate(1573.64,656.90) scale(1.138,0.71)">0</text><text transform="translate(1578.83,656.90) scale(1.138,0.71)">0</text><text transform="translate(1584.01,656.90) scale(1.138,0.71)">0</text></g>
<g font-family="Liberation Serif" font-size="10.2" font-weight="normal" fill="#000" stroke="#000" stroke-width="0.22" text-rendering="geometricPrecision" ><text transform="translate(1561.00,685.90) scale(1.016,0.71)">2</text><text transform="translate(1566.18,688.04) scale(1.016,1)">7</text><text transform="translate(1571.36,685.90) scale(1.016,1)">,</text><text transform="translate(1573.95,688.04) scale(1.016,1)">5</text><text transform="translate(1578.83,685.90) scale(1.138,0.71)">0</text><text transform="translate(1584.01,685.90) scale(1.138,0.71)">0</text></g>
<g font-family="Liberation Serif" font-size="10.2" font-weight="normal" fill="#000" stroke="#000" stroke-width="0.22" text-rendering="geometricPrecision" ><text transform="translate(1561.00,715.90) scale(1.016,0.71)">2</text><text transform="translate(1566.18,718.04) scale(1.016,1)">7</text><text transform="translate(1571.36,715.90) scale(1.016,1)">,</text><text transform="translate(1573.64,715.90) scale(1.138,0.71)">0</text><text transform="translate(1578.83,715.90) scale(1.138,0.71)">0</text><text transform="translate(1584.01,715.90) scale(1.138,0.71)">0</text></g>
<g font-family="Liberation Serif" font-size="10.2" font-weight="normal" fill="#000" stroke="#000" stroke-width="0.22" text-rendering="geometricPrecision" ><text transform="translate(1561.00,744.90) scale(1.016,0.71)">2</text><text transform="translate(1566.18,744.90) scale(1.016,1)">6</text><text transform="translate(1571.36,744.90) scale(1.016,1)">,</text><text transform="translate(1573.95,747.04) scale(1.016,1)">5</text><text transform="translate(1578.83,744.90) scale(1.138,0.71)">0</text><text transform="translate(1584.01,744.90) scale(1.138,0.71)">0</text></g>
<g font-family="Liberation Serif" font-size="10.2" font-weight="normal" fill="#000" stroke="#000" stroke-width="0.22" text-rendering="geometricPrecision" ><text transform="translate(1561.00,774.90) scale(1.016,0.71)">2</text><text transform="translate(1566.18,774.90) scale(1.016,1)">6</text><text transform="translate(1571.36,774.90) scale(1.016,1)">,</text><text transform="translate(1573.64,774.90) scale(1.138,0.71)">0</text><text transform="translate(1578.83,774.90) scale(1.138,0.71)">0</text><text transform="translate(1584.01,774.90) scale(1.138,0.71)">0</text></g>
<g font-family="Liberation Serif" font-size="10.2" font-weight="normal" fill="#000" stroke="#000" stroke-width="0.22" text-rendering="geometricPrecision" ><text transform="translate(1561.00,804.90) scale(1.016,0.71)">2</text><text transform="translate(1566.18,807.04) scale(1.016,1)">5</text><text transform="translate(1571.36,804.90) scale(1.016,1)">,</text><text transform="translate(1573.95,807.04) scale(1.016,1)">5</text><text transform="translate(1578.83,804.90) scale(1.138,0.71)">0</text><text transform="translate(1584.01,804.90) scale(1.138,0.71)">0</text></g>
<g font-family="Liberation Serif" font-size="10.2" font-weight="normal" fill="#000" stroke="#000" stroke-width="0.22" text-rendering="geometricPrecision" ><text transform="translate(1561.00,833.90) scale(1.016,0.71)">2</text><text transform="translate(1566.18,836.04) scale(1.016,1)">5</text><text transform="translate(1571.36,833.90) scale(1.016,1)">,</text><text transform="translate(1573.64,833.90) scale(1.138,0.71)">0</text><text transform="translate(1578.83,833.90) scale(1.138,0.71)">0</text><text transform="translate(1584.01,833.90) scale(1.138,0.71)">0</text></g>
<g font-family="Liberation Serif" font-size="10.2" font-weight="normal" fill="#000" stroke="#000" stroke-width="0.22" text-rendering="geometricPrecision" ><text transform="translate(1561.00,863.90) scale(1.016,0.71)">2</text><text transform="translate(1566.18,866.04) scale(1.016,1)">4</text><text transform="translate(1571.36,863.90) scale(1.016,1)">,</text><text transform="translate(1573.95,866.04) scale(1.016,1)">5</text><text transform="translate(1578.83,863.90) scale(1.138,0.71)">0</text><text transform="translate(1584.01,863.90) scale(1.138,0.71)">0</text></g>
<g font-family="Liberation Serif" font-size="10.2" font-weight="normal" fill="#000" stroke="#000" stroke-width="0.22" text-rendering="geometricPrecision" ><text transform="translate(1561.00,893.90) scale(1.016,0.71)">2</text><text transform="translate(1566.18,896.04) scale(1.016,1)">4</text><text transform="translate(1571.36,893.90) scale(1.016,1)">,</text><text transform="translate(1573.64,893.90) scale(1.138,0.71)">0</text><text transform="translate(1578.83,893.90) scale(1.138,0.71)">0</text><text transform="translate(1584.01,893.90) scale(1.138,0.71)">0</text></g>
<g font-family="Liberation Serif" font-size="10.2" font-weight="normal" fill="#000" stroke="#000" stroke-width="0.22" text-rendering="geometricPrecision" ><text transform="translate(1561.00,923.90) scale(1.016,0.71)">2</text><text transform="translate(1566.18,926.04) scale(1.016,1)">3</text><text transform="translate(1571.36,923.90) scale(1.016,1)">,</text><text transform="translate(1573.95,926.04) scale(1.016,1)">5</text><text transform="translate(1578.83,923.90) scale(1.138,0.71)">0</text><text transform="translate(1584.01,923.90) scale(1.138,0.71)">0</text></g>
<g font-family="Liberation Serif" font-size="10.2" font-weight="normal" fill="#000" stroke="#000" stroke-width="0.22" text-rendering="geometricPrecision" ><text transform="translate(1561.00,952.90) scale(1.016,0.71)">2</text><text transform="translate(1566.18,955.04) scale(1.016,1)">3</text><text transform="translate(1571.36,952.90) scale(1.016,1)">,</text><text transform="translate(1573.64,952.90) scale(1.138,0.71)">0</text><text transform="translate(1578.83,952.90) scale(1.138,0.71)">0</text><text transform="translate(1584.01,952.90) scale(1.138,0.71)">0</text></g>
<text x="1553" y="11.2" font-family="Liberation Serif" font-size="8.6" font-weight="normal" fill="#222" textLength="19.0" lengthAdjust="spacingAndGlyphs" >EUR</text>
<path d="M1553.5 328.5 L1560.5 322.5 H1602 V334.5 H1560.5 Z" fill="#e2e2e2" stroke="#000" stroke-width="1"/>
<g font-family="Liberation Serif" font-size="10.2" font-weight="normal" fill="#000" stroke="#000" stroke-width="0.22" text-rendering="geometricPrecision" ><text transform="translate(1562.00,334.44) scale(0.980,1)">3</text><text transform="translate(1567.00,334.44) scale(0.980,1)">3</text><text transform="translate(1572.00,332.30) scale(0.980,1)">,</text><text transform="translate(1574.50,334.44) scale(0.980,1)">4</text><text transform="translate(1579.50,334.44) scale(0.980,1)">9</text><text transform="translate(1584.20,332.30) scale(1.098,0.71)">0</text></g>
<path d="M76.5 971V976M181.5 971V976M292.5 971V976M403.5 971V976M519.5 971V976M641.5 971V976M746.5 971V976M862.5 971V976M978.5 971V976M1068.5 971V976M1184.5 971V976M1290.5 971V976M1454.5 971V976" stroke="#222" stroke-width="1" fill="none" shape-rendering="crispEdges"/>
<g font-family="Liberation Serif" font-size="9.6" font-weight="normal" fill="#000" stroke="#000" stroke-width="0.3" text-rendering="geometricPrecision" ><text transform="translate(76.30,983.30) scale(1.038,1)">A</text><text transform="translate(83.50,983.30) scale(1.038,1.06)">p</text><text transform="translate(88.48,983.30) scale(1.038,1.06)">r</text></g>
<g font-family="Liberation Serif" font-size="9.6" font-weight="normal" fill="#000" stroke="#000" stroke-width="0.3" text-rendering="geometricPrecision" ><text transform="translate(181.30,983.30) scale(1.035,1)">M</text><text transform="translate(190.13,983.30) scale(1.035,1.06)">a</text><text transform="translate(194.54,983.30) scale(1.035,1.06)">i</text></g>
<g font-family="Liberation Serif" font-size="9.6" font-weight="normal" fill="#000" stroke="#000" stroke-width="0.3" text-rendering="geometricPrecision" ><text transform="translate(292.30,983.30) scale(1.162,1)">J</text><text transform="translate(296.64,983.30) scale(1.162,1.06)">u</text><text transform="translate(302.22,983.30) scale(1.162,1.06)">n</text></g>
<g font-family="Liberation Serif" font-size="9.6" font-weight="normal" fill="#000" stroke="#000" stroke-width="0.3" text-rendering="geometricPrecision" ><text transform="translate(403.30,983.30) scale(1.160,1)">J</text><text transform="translate(407.64,983.30) scale(1.160,1.06)">u</text><text transform="translate(413.21,983.30) scale(1.160,1.06)">l</text></g>
<g font-family="Liberation Serif" font-size="9.6" font-weight="normal" fill="#000" stroke="#000" stroke-width="0.3" text-rendering="geometricPrecision" ><text transform="translate(519.30,983.30) scale(0.956,1)">A</text><text transform="translate(525.93,983.30) scale(0.956,1.06)">u</text><text transform="translate(530.51,983.30) scale(0.956,1.06)">g</text></g>
<g font-family="Liberation Serif" font-size="9.6" font-weight="normal" fill="#000" stroke="#000" stroke-width="0.3" text-rendering="geometricPrecision" ><text transform="translate(641.30,983.30) scale(1.007,1)">S</text><text transform="translate(646.68,983.30) scale(1.007,1.06)">e</text><text transform="translate(650.97,983.30) scale(1.007,1.06)">p</text></g>
<g font-family="Liberation Serif" font-size="9.6" font-weight="normal" fill="#000" stroke="#000" stroke-width="0.3" text-rendering="geometricPrecision" ><text transform="translate(746.30,983.30) scale(1.042,1)">O</text><text transform="translate(753.52,983.30) scale(1.042,1.06)">k</text><text transform="translate(758.52,983.30) scale(1.042,1.06)">t</text></g>
<g font-family="Liberation Serif" font-size="9.6" font-weight="normal" fill="#000" stroke="#000" stroke-width="0.3" text-rendering="geometricPrecision" ><text transform="translate(862.30,983.30) scale(1.010,1)">N</text><text transform="translate(869.30,983.30) scale(1.010,1.06)">o</text><text transform="translate(874.15,983.30) scale(1.010,1.06)">v</text></g>
<g font-family="Liberation Serif" font-size="9.6" font-weight="normal" fill="#000" stroke="#000" stroke-width="0.3" text-rendering="geometricPrecision" ><text transform="translate(978.30,983.30) scale(1.003,1)">D</text><text transform="translate(985.25,983.30) scale(1.003,1.06)">e</text><text transform="translate(989.53,983.30) scale(1.003,1.06)">z</text></g>
<g font-family="Liberation Serif" font-size="9.6" font-weight="normal" fill="#000" stroke="#000" stroke-width="0.3" text-rendering="geometricPrecision" ><text transform="translate(1068.30,983.30) scale(1.042,0.71)">2</text><text transform="translate(1073.00,983.30) scale(1.167,0.71)">0</text><text transform="translate(1078.30,983.30) scale(1.042,0.71)">1</text><text transform="translate(1083.30,985.32) scale(1.042,1)">9</text></g>
<g font-family="Liberation Serif" font-size="9.6" font-weight="normal" fill="#000" stroke="#000" stroke-width="0.3" text-rendering="geometricPrecision" ><text transform="translate(1184.30,983.30) scale(1.042,1)">F</text><text transform="translate(1189.86,983.30) scale(1.042,1.06)">e</text><text transform="translate(1194.30,983.30) scale(1.042,1.06)">b</text></g>
<g font-family="Liberation Serif" font-size="9.6" font-weight="normal" fill="#000" stroke="#000" stroke-width="0.3" text-rendering="geometricPrecision" ><text transform="translate(1290.30,983.30) scale(1.019,1)">M</text><text transform="translate(1299.00,983.30) scale(1.019,1.06)">r</text><text transform="translate(1302.26,983.30) scale(1.019,1.06)">z</text></g>
<g font-family="Liberation Serif" font-size="9.6" font-weight="normal" fill="#000" stroke="#000" stroke-width="0.3" text-rendering="geometricPrecision" ><text transform="translate(1454.30,983.30) scale(1.018,1)">A</text><text transform="translate(1461.36,983.30) scale(1.018,1.06)">p</text><text transform="translate(1466.25,983.30) scale(1.018,1.06)">r</text></g>
<g font-family="Liberation Serif" font-size="8.6" font-weight="bold" fill="#111" stroke="#111" stroke-width="0" text-rendering="geometricPrecision" ><text transform="translate(585.90,284.00) scale(1.199,0.71)">2</text><text transform="translate(591.06,284.00) scale(1.199,0.71)">2</text><text transform="translate(596.21,284.00) scale(1.199,1)">.</text><text transform="translate(598.48,284.00) scale(1.343,0.71)">0</text><text transform="translate(603.94,284.00) scale(1.199,1)">8</text></g>
<g font-family="Liberation Serif" font-size="8.6" font-weight="bold" fill="#111" stroke="#111" stroke-width="0" text-rendering="geometricPrecision" ><text transform="translate(855.93,359.30) scale(1.187,0.71)">0</text><text transform="translate(860.76,359.30) scale(1.059,0.71)">2</text><text transform="translate(865.31,359.30) scale(1.059,1)">.</text><text transform="translate(867.59,359.30) scale(1.059,0.71)">1</text><text transform="translate(872.14,359.30) scale(1.059,0.71)">1</text></g>
<g font-family="Liberation Serif" font-size="8.6" font-weight="bold" fill="#111" stroke="#111" stroke-width="0" text-rendering="geometricPrecision" ><text transform="translate(829.10,597.50) scale(1.080,0.71)">2</text><text transform="translate(833.74,599.31) scale(1.080,1)">5</text><text transform="translate(838.39,597.50) scale(1.080,1)">.</text><text transform="translate(840.71,597.50) scale(1.080,0.71)">1</text><text transform="translate(845.08,597.50) scale(1.210,0.71)">0</text></g>
<g font-family="Liberation Serif" font-size="8.6" font-weight="bold" fill="#111" stroke="#111" stroke-width="0" text-rendering="geometricPrecision" ><text transform="translate(1051.40,615.80) scale(1.059,0.71)">2</text><text transform="translate(1055.96,617.61) scale(1.059,1)">7</text><text transform="translate(1060.51,615.80) scale(1.059,1)">.</text><text transform="translate(1062.79,615.80) scale(1.059,0.71)">1</text><text transform="translate(1067.34,615.80) scale(1.059,0.71)">2</text></g>
<g font-family="Liberation Serif" font-size="8.6" font-weight="bold" fill="#111" stroke="#111" stroke-width="0" text-rendering="geometricPrecision" ><text transform="translate(68.79,830.50) scale(1.343,0.71)">0</text><text transform="translate(74.26,832.31) scale(1.199,1)">4</text><text transform="translate(79.41,830.50) scale(1.199,1)">.</text><text transform="translate(81.68,830.50) scale(1.343,0.71)">0</text><text transform="translate(87.14,832.31) scale(1.199,1)">4</text></g>
<text x="1157" y="350.8" font-family="Liberation Serif" font-size="8.2" font-weight="bold" fill="#111" textLength="7.0" lengthAdjust="spacingAndGlyphs" >H</text>
<text x="1267" y="262.8" font-family="Liberation Serif" font-size="8.2" font-weight="bold" fill="#111" textLength="7.5" lengthAdjust="spacingAndGlyphs" >H</text>
<text x="1193.5" y="471.5" font-family="Liberation Serif" font-size="8.2" font-weight="bold" fill="#111" textLength="5.5" lengthAdjust="spacingAndGlyphs" >L</text>
<g font-family="Liberation Serif" font-size="9.2" font-weight="bold" fill="#ff0000" stroke="#ff0000" stroke-width="0.05" text-rendering="geometricPrecision" ><text transform="translate(955.90,226.00) scale(0.943,0.71)">1</text><text transform="translate(960.24,226.00) scale(0.943,1)">X</text><text transform="translate(966.50,226.00) scale(0.943,0.71)">1</text><text transform="translate(973.01,226.00) scale(0.943,1)">A</text><text transform="translate(979.28,226.00) scale(0.943,1.06)">n</text><text transform="translate(984.10,226.00) scale(0.943,1.06)">g</text><text transform="translate(988.44,226.00) scale(0.943,1.06)">l</text><text transform="translate(990.85,226.00) scale(0.943,1.06)">e</text></g>
<g font-family="Liberation Serif" font-size="9.2" font-weight="normal" fill="#6a6a6a" stroke="#6a6a6a" stroke-width="0.22" text-rendering="geometricPrecision" ><text transform="translate(1368.00,330.93) scale(1.009,1)">4</text><text transform="translate(1372.64,329.00) scale(1.009,1)">X</text><text transform="translate(1379.35,329.00) scale(1.009,0.71)">1</text><text transform="translate(1386.31,329.00) scale(1.009,1)">A</text><text transform="translate(1393.02,329.00) scale(1.009,1.06)">n</text><text transform="translate(1397.66,329.00) scale(1.009,1.06)">g</text><text transform="translate(1402.30,329.00) scale(1.009,1.06)">l</text><text transform="translate(1404.88,329.00) scale(1.009,1.06)">e</text></g>
<g font-family="Liberation Serif" font-size="9.5" font-weight="normal" fill="#00d800" stroke="#00d800" stroke-width="0.22" text-rendering="geometricPrecision" ><text transform="translate(1410.00,93.00) scale(1.195,0.71)">0</text><text transform="translate(1415.37,95.00) scale(1.067,1)">5</text><text transform="translate(1420.43,93.00) scale(1.067,1)">.</text><text transform="translate(1422.66,93.00) scale(1.195,0.71)">0</text><text transform="translate(1428.03,95.00) scale(1.067,1)">4</text></g>
<g font-family="Liberation Serif" font-size="9.5" font-weight="normal" fill="#646464" stroke="#646464" stroke-width="0.22" text-rendering="geometricPrecision" ><text transform="translate(1246.00,136.00) scale(1.031,0.71)">1</text><text transform="translate(1250.89,136.00) scale(1.031,1)">8</text><text transform="translate(1255.50,136.00) scale(1.154,0.71)">0</text><text transform="translate(1260.68,136.00) scale(1.031,1)">°</text></g>
<g font-family="Liberation Serif" font-size="9.5" font-weight="normal" fill="#646464" stroke="#646464" stroke-width="0.22" text-rendering="geometricPrecision" ><text transform="translate(1246.00,146.00) scale(1.095,0.71)">2</text><text transform="translate(1250.89,146.00) scale(1.226,0.71)">0</text><text transform="translate(1256.40,146.00) scale(1.095,1)">.</text><text transform="translate(1258.69,146.00) scale(1.226,0.71)">0</text><text transform="translate(1264.20,146.00) scale(1.095,0.71)">2</text></g>
<g font-family="Liberation Serif" font-size="9.5" font-weight="normal" fill="#646464" stroke="#646464" stroke-width="0.22" text-rendering="geometricPrecision" ><text transform="translate(1463.00,137.90) scale(1.031,0.71)">2</text><text transform="translate(1467.89,137.90) scale(1.031,0.71)">2</text><text transform="translate(1472.79,139.90) scale(1.031,1)">5</text><text transform="translate(1477.68,137.90) scale(1.031,1)">°</text></g>
<g font-family="Liberation Serif" font-size="9.5" font-weight="normal" fill="#646464" stroke="#646464" stroke-width="0.22" text-rendering="geometricPrecision" ><text transform="translate(1462.69,147.30) scale(1.226,0.71)">0</text><text transform="translate(1468.20,147.30) scale(1.095,1)">6</text><text transform="translate(1473.40,147.30) scale(1.095,1)">.</text><text transform="translate(1475.69,147.30) scale(1.226,0.71)">0</text><text transform="translate(1481.20,149.30) scale(1.095,1)">4</text></g>
<g font-family="Liberation Serif" font-size="9.5" font-weight="normal" fill="#646464" stroke="#646464" stroke-width="0.22" text-rendering="geometricPrecision" ><text transform="translate(1289.00,158.30) scale(0.997,0.71)">1</text><text transform="translate(1293.74,158.30) scale(0.997,0.71)">2</text><text transform="translate(1298.19,158.30) scale(1.117,0.71)">0</text><text transform="translate(1303.21,158.30) scale(0.997,1)">°</text></g>
<g font-family="Liberation Serif" font-size="9.5" font-weight="normal" fill="#646464" stroke="#646464" stroke-width="0.22" text-rendering="geometricPrecision" ><text transform="translate(1288.69,168.30) scale(1.210,0.71)">0</text><text transform="translate(1294.13,170.30) scale(1.081,1)">3</text><text transform="translate(1299.27,168.30) scale(1.081,1)">.</text><text transform="translate(1301.53,168.30) scale(1.210,0.71)">0</text><text transform="translate(1306.97,170.30) scale(1.081,1)">3</text></g>
<g font-family="Liberation Serif" font-size="9.5" font-weight="normal" fill="#646464" stroke="#646464" stroke-width="0.22" text-rendering="geometricPrecision" ><text transform="translate(1368.30,166.30) scale(0.914,0.71)">1</text><text transform="translate(1372.64,168.30) scale(0.914,1)">3</text><text transform="translate(1376.98,168.30) scale(0.914,1)">5</text><text transform="translate(1381.33,166.30) scale(0.914,1)">°</text></g>
<g font-family="Liberation Serif" font-size="9.5" font-weight="normal" fill="#646464" stroke="#646464" stroke-width="0.22" text-rendering="geometricPrecision" ><text transform="translate(1368.30,176.30) scale(1.006,0.71)">1</text><text transform="translate(1373.08,176.30) scale(1.006,1)">8</text><text transform="translate(1377.86,176.30) scale(1.006,1)">.</text><text transform="translate(1379.96,176.30) scale(1.127,0.71)">0</text><text transform="translate(1385.02,178.30) scale(1.006,1)">3</text></g>
<g font-family="Liberation Serif" font-size="9.5" font-weight="normal" fill="#646464" stroke="#646464" stroke-width="0.22" text-rendering="geometricPrecision" ><text transform="translate(1257.00,726.00) scale(1.015,1)">6</text><text transform="translate(1261.53,726.00) scale(1.137,0.71)">0</text><text transform="translate(1266.64,726.00) scale(1.015,1)">°</text></g>
<g font-family="Liberation Serif" font-size="9.5" font-weight="normal" fill="#646464" stroke="#646464" stroke-width="0.22" text-rendering="geometricPrecision" ><text transform="translate(1257.00,736.00) scale(1.076,0.71)">2</text><text transform="translate(1262.11,738.00) scale(1.076,1)">5</text><text transform="translate(1267.22,736.00) scale(1.076,1)">.</text><text transform="translate(1269.47,736.00) scale(1.205,0.71)">0</text><text transform="translate(1274.89,736.00) scale(1.076,0.71)">2</text></g>
<g font-family="Liberation Serif" font-size="9.5" font-weight="normal" fill="#646464" stroke="#646464" stroke-width="0.22" text-rendering="geometricPrecision" ><text transform="translate(1410.00,729.70) scale(1.015,1)">9</text><text transform="translate(1414.53,727.70) scale(1.137,0.71)">0</text><text transform="translate(1419.64,727.70) scale(1.015,1)">°</text></g>
<g font-family="Liberation Serif" font-size="9.5" font-weight="normal" fill="#646464" stroke="#646464" stroke-width="0.22" text-rendering="geometricPrecision" ><text transform="translate(1410.00,737.70) scale(1.076,0.71)">2</text><text transform="translate(1415.11,737.70) scale(1.076,1)">8</text><text transform="translate(1420.22,737.70) scale(1.076,1)">.</text><text transform="translate(1422.47,737.70) scale(1.205,0.71)">0</text><text transform="translate(1427.89,739.70) scale(1.076,1)">3</text></g>
<g font-family="Liberation Serif" font-size="9.5" font-weight="normal" fill="#646464" stroke="#646464" stroke-width="0.22" text-rendering="geometricPrecision" ><text transform="translate(1252.20,815.50) scale(0.997,0.71)">1</text><text transform="translate(1256.94,815.50) scale(0.997,0.71)">2</text><text transform="translate(1261.39,815.50) scale(1.117,0.71)">0</text><text transform="translate(1266.41,815.50) scale(0.997,1)">°</text></g>
<g font-family="Liberation Serif" font-size="9.5" font-weight="normal" fill="#646464" stroke="#646464" stroke-width="0.22" text-rendering="geometricPrecision" ><text transform="translate(1252.20,825.70) scale(1.076,0.71)">2</text><text transform="translate(1257.31,827.70) scale(1.076,1)">3</text><text transform="translate(1262.42,825.70) scale(1.076,1)">.</text><text transform="translate(1264.67,825.70) scale(1.205,0.71)">0</text><text transform="translate(1270.09,825.70) scale(1.076,0.71)">2</text></g>
<g font-family="Liberation Serif" font-size="9.5" font-weight="normal" fill="#646464" stroke="#646464" stroke-width="0.22" text-rendering="geometricPrecision" ><text transform="translate(1315.00,810.30) scale(0.914,0.71)">1</text><text transform="translate(1319.34,812.29) scale(0.914,1)">3</text><text transform="translate(1323.68,812.29) scale(0.914,1)">5</text><text transform="translate(1328.03,810.30) scale(0.914,1)">°</text></g>
<g font-family="Liberation Serif" font-size="9.5" font-weight="normal" fill="#646464" stroke="#646464" stroke-width="0.22" text-rendering="geometricPrecision" ><text transform="translate(1315.00,820.00) scale(1.029,0.71)">1</text><text transform="translate(1319.60,820.00) scale(1.153,0.71)">0</text><text transform="translate(1324.78,820.00) scale(1.029,1)">.</text><text transform="translate(1326.93,820.00) scale(1.153,0.71)">0</text><text transform="translate(1332.11,822.00) scale(1.029,1)">3</text></g>
<g font-family="Liberation Serif" font-size="9.5" font-weight="normal" fill="#646464" stroke="#646464" stroke-width="0.22" text-rendering="geometricPrecision" ><text transform="translate(1235.90,878.50) scale(0.942,1)">3</text><text transform="translate(1240.37,876.50) scale(0.942,0.71)">1</text><text transform="translate(1244.85,878.50) scale(0.942,1)">5</text><text transform="translate(1249.32,876.50) scale(0.942,1)">°</text></g>
<g font-family="Liberation Serif" font-size="9.5" font-weight="normal" fill="#646464" stroke="#646464" stroke-width="0.22" text-rendering="geometricPrecision" ><text transform="translate(1235.90,886.80) scale(1.029,0.71)">1</text><text transform="translate(1240.79,888.79) scale(1.029,1)">7</text><text transform="translate(1245.68,886.80) scale(1.029,1)">.</text><text transform="translate(1247.83,886.80) scale(1.153,0.71)">0</text><text transform="translate(1253.01,886.80) scale(1.029,0.71)">2</text></g>
<g font-family="Liberation Serif" font-size="9.5" font-weight="normal" fill="#646464" stroke="#646464" stroke-width="0.22" text-rendering="geometricPrecision" ><text transform="translate(1473.80,874.89) scale(1.053,1)">3</text><text transform="translate(1478.80,872.90) scale(1.053,1)">6</text><text transform="translate(1483.50,872.90) scale(1.179,0.71)">0</text><text transform="translate(1488.80,872.90) scale(1.053,1)">°</text></g>
<g font-family="Liberation Serif" font-size="9.5" font-weight="normal" fill="#646464" stroke="#646464" stroke-width="0.22" text-rendering="geometricPrecision" ><text transform="translate(1473.49,882.90) scale(1.205,0.71)">0</text><text transform="translate(1478.91,884.89) scale(1.076,1)">4</text><text transform="translate(1484.02,882.90) scale(1.076,1)">.</text><text transform="translate(1486.27,882.90) scale(1.205,0.71)">0</text><text transform="translate(1491.69,884.89) scale(1.076,1)">4</text></g>
<g font-family="Liberation Serif" font-size="8.4" font-weight="bold" fill="#000" stroke="#000" stroke-width="0.18" text-rendering="geometricPrecision" ><text transform="translate(5.30,14.90) scale(1.058,1)">Q</text><text transform="translate(12.21,14.90) scale(1.058,1)">I</text><text transform="translate(15.67,14.90) scale(1.058,1)">A</text><text transform="translate(22.09,14.90) scale(1.058,1)">G</text><text transform="translate(29.00,14.90) scale(1.058,1)">E</text><text transform="translate(34.92,14.90) scale(1.058,1)">N</text><text transform="translate(43.56,14.90) scale(1.058,1)">N</text><text transform="translate(49.98,14.90) scale(1.058,1)">V</text><text transform="translate(58.62,14.90) scale(1.058,1)">E</text><text transform="translate(64.54,14.90) scale(1.058,1)">O</text><text transform="translate(73.68,14.90) scale(1.058,1)">-</text><text transform="translate(76.64,14.90) scale(1.058,1)">,</text><text transform="translate(78.59,14.90) scale(1.185,0.71)">0</text><text transform="translate(83.30,14.90) scale(1.058,0.71)">1</text><text transform="translate(89.96,14.90) scale(1.058,1)">[</text><text transform="translate(92.92,14.90) scale(1.058,1)">Q</text><text transform="translate(99.83,14.90) scale(1.058,1)">I</text><text transform="translate(103.29,14.90) scale(1.058,1)">A</text><text transform="translate(111.93,14.90) scale(1.058,1)">G</text><text transform="translate(118.84,14.90) scale(1.058,1)">E</text><text transform="translate(124.77,14.90) scale(1.058,1)">R</text><text transform="translate(133.41,14.90) scale(1.058,1)">T</text><text transform="translate(139.33,14.90) scale(1.058,1.06)">ä</text><text transform="translate(143.78,14.90) scale(1.058,1.06)">g</text><text transform="translate(148.22,14.90) scale(1.058,1.06)">l</text><text transform="translate(150.69,14.90) scale(1.058,1.06)">i</text><text transform="translate(153.16,14.90) scale(1.058,1.06)">c</text><text transform="translate(157.10,14.90) scale(1.058,1.06)">h</text><text transform="translate(162.04,14.90) scale(1.058,1)">]</text></g>
<g font-family="Liberation Serif" font-size="8.6" font-weight="normal" fill="#222" stroke="#222" stroke-width="0.22" text-rendering="geometricPrecision" ><text transform="translate(167.40,14.90) scale(1.146,0.71)">2</text><text transform="translate(172.33,16.71) scale(1.146,1)">7</text><text transform="translate(177.26,14.90) scale(1.146,1)">.</text><text transform="translate(179.42,14.90) scale(1.284,0.71)">0</text><text transform="translate(184.65,14.90) scale(1.146,0.71)">2</text><text transform="translate(189.58,14.90) scale(1.146,1)">.</text><text transform="translate(192.04,14.90) scale(1.146,0.71)">2</text><text transform="translate(196.67,14.90) scale(1.284,0.71)">0</text><text transform="translate(201.90,14.90) scale(1.146,0.71)">1</text><text transform="translate(206.83,16.71) scale(1.146,1)">9</text><text transform="translate(214.22,14.90) scale(1.146,1)">-</text></g>
<g font-family="Liberation Serif" font-size="8.6" font-weight="normal" fill="#ff0000" stroke="#ff0000" stroke-width="0.22" text-rendering="geometricPrecision" ><text transform="translate(220.00,14.90) scale(1.147,1)">O</text><text transform="translate(227.13,14.90) scale(1.147,1)">:</text><text transform="translate(229.87,16.71) scale(1.147,1)">3</text><text transform="translate(234.80,16.71) scale(1.147,1)">3</text><text transform="translate(239.73,14.90) scale(1.147,1)">,</text><text transform="translate(242.20,14.90) scale(1.147,1)">6</text><text transform="translate(247.13,14.90) scale(1.147,1)">8</text><text transform="translate(251.77,14.90) scale(1.285,0.71)">0</text></g>
<g font-family="Liberation Serif" font-size="8.6" font-weight="normal" fill="#222" stroke="#222" stroke-width="0.22" text-rendering="geometricPrecision" ><text transform="translate(260.00,14.90) scale(1.178,1)">H</text><text transform="translate(267.32,14.90) scale(1.178,1)">:</text><text transform="translate(270.13,16.71) scale(1.178,1)">3</text><text transform="translate(275.20,16.71) scale(1.178,1)">3</text><text transform="translate(280.27,14.90) scale(1.178,1)">,</text><text transform="translate(282.80,14.90) scale(1.178,1)">8</text><text transform="translate(287.56,14.90) scale(1.320,0.71)">0</text><text transform="translate(292.63,14.90) scale(1.320,0.71)">0</text></g>
<g font-family="Liberation Serif" font-size="8.6" font-weight="normal" fill="#222" stroke="#222" stroke-width="0.22" text-rendering="geometricPrecision" ><text transform="translate(301.00,14.90) scale(1.118,1)">L</text><text transform="translate(306.88,14.90) scale(1.118,1)">:</text><text transform="translate(309.55,16.71) scale(1.118,1)">3</text><text transform="translate(314.36,16.71) scale(1.118,1)">3</text><text transform="translate(319.17,14.90) scale(1.118,1)">,</text><text transform="translate(321.57,16.71) scale(1.118,1)">4</text><text transform="translate(326.38,14.90) scale(1.118,0.71)">2</text><text transform="translate(330.90,14.90) scale(1.253,0.71)">0</text></g>
<g font-family="Liberation Serif" font-size="8.6" font-weight="normal" fill="#ff0000" stroke="#ff0000" stroke-width="0.22" text-rendering="geometricPrecision" ><text transform="translate(339.00,14.90) scale(1.158,1)">C</text><text transform="translate(345.64,14.90) scale(1.158,1)">:</text><text transform="translate(348.41,16.71) scale(1.158,1)">3</text><text transform="translate(353.39,16.71) scale(1.158,1)">3</text><text transform="translate(358.36,14.90) scale(1.158,1)">,</text><text transform="translate(360.85,16.71) scale(1.158,1)">4</text><text transform="translate(365.83,16.71) scale(1.158,1)">9</text><text transform="translate(370.51,14.90) scale(1.297,0.71)">0</text><text transform="translate(378.28,14.90) scale(1.158,1)">-</text><text transform="translate(381.30,14.90) scale(1.297,0.71)">0</text><text transform="translate(386.57,14.90) scale(1.158,1)">,</text><text transform="translate(389.06,14.90) scale(1.158,0.71)">2</text><text transform="translate(394.04,16.71) scale(1.158,1)">9</text><text transform="translate(398.72,14.90) scale(1.297,0.71)">0</text><text transform="translate(406.49,14.90) scale(1.158,1)">-</text><text transform="translate(409.50,14.90) scale(1.297,0.71)">0</text><text transform="translate(414.78,14.90) scale(1.158,1)">,</text><text transform="translate(417.27,14.90) scale(1.158,1)">8</text><text transform="translate(422.25,16.71) scale(1.158,1)">5</text><text transform="translate(427.23,14.90) scale(1.158,1)">8</text><text transform="translate(432.21,14.90) scale(1.158,1)">%</text></g>
<text x="443.5" y="14.4" font-family="Liberation Serif" font-size="9.4" font-weight="normal" fill="#ff8a00" textLength="3.5" lengthAdjust="spacingAndGlyphs" >•</text>
<g font-family="Liberation Serif" font-size="8.6" font-weight="normal" fill="#ff8a00" stroke="#ff8a00" stroke-width="0.22" text-rendering="geometricPrecision" ><text transform="translate(449.50,14.90) scale(1.093,0.71)">1</text><text transform="translate(454.20,16.71) scale(1.093,1)">5</text><text transform="translate(461.25,14.90) scale(1.093,1.06)">m</text><text transform="translate(468.57,14.90) scale(1.093,1.06)">i</text><text transform="translate(471.18,14.90) scale(1.093,1.06)">n</text><text transform="translate(478.24,14.90) scale(1.093,1.06)">d</text><text transform="translate(482.94,14.90) scale(1.093,1.06)">e</text><text transform="translate(487.11,14.90) scale(1.093,1.06)">l</text><text transform="translate(489.72,14.90) scale(1.093,1.06)">a</text><text transform="translate(493.90,14.90) scale(1.093,1.06)">y</text></g>
</svg>

<div id="nav">
  <div id="navt">Navigation</div><svg id="navx" width="10" height="10" viewBox="0 0 10 10"><path d="M1.2 1.2L7 7M7 1.2L1.2 7" stroke="#9a9a9a" stroke-width="2"/></svg>
  <div id="navsep"></div>
  <svg id="navicons" width="106" height="40" viewBox="0 0 106 40">
    <g fill="#555">
      <rect x="9.9" y="0.2" width="6.4" height="4.6" rx="1.2"/><rect x="18" y="0.2" width="6.4" height="4.6" rx="1.2"/><rect x="26.1" y="0.2" width="6.4" height="4.6" rx="1.2"/>
      <rect x="9.9" y="6.5" width="6.4" height="4.6" rx="1.2"/><rect x="18" y="6.5" width="6.4" height="4.6" rx="1.2"/><rect x="26.1" y="6.5" width="6.4" height="4.6" rx="1.2"/>
      <rect x="9.9" y="12.9" width="6.4" height="4.6" rx="1.2"/><rect x="18" y="12.9" width="6.4" height="4.6" rx="1.2"/><rect x="26.1" y="12.9" width="6.4" height="4.6" rx="1.2"/>
      <path d="M42.4 9 L53.6 2.4 V15.6 Z M53.6 9 L64.2 2.4 V15.6 Z"/>
      <path d="M74 2.4 L84.3 9 L74 15.6 Z M84.3 2.4 L95.4 9 L84.3 15.6 Z"/>
    </g>
  </svg>
</div>

</body></html>
